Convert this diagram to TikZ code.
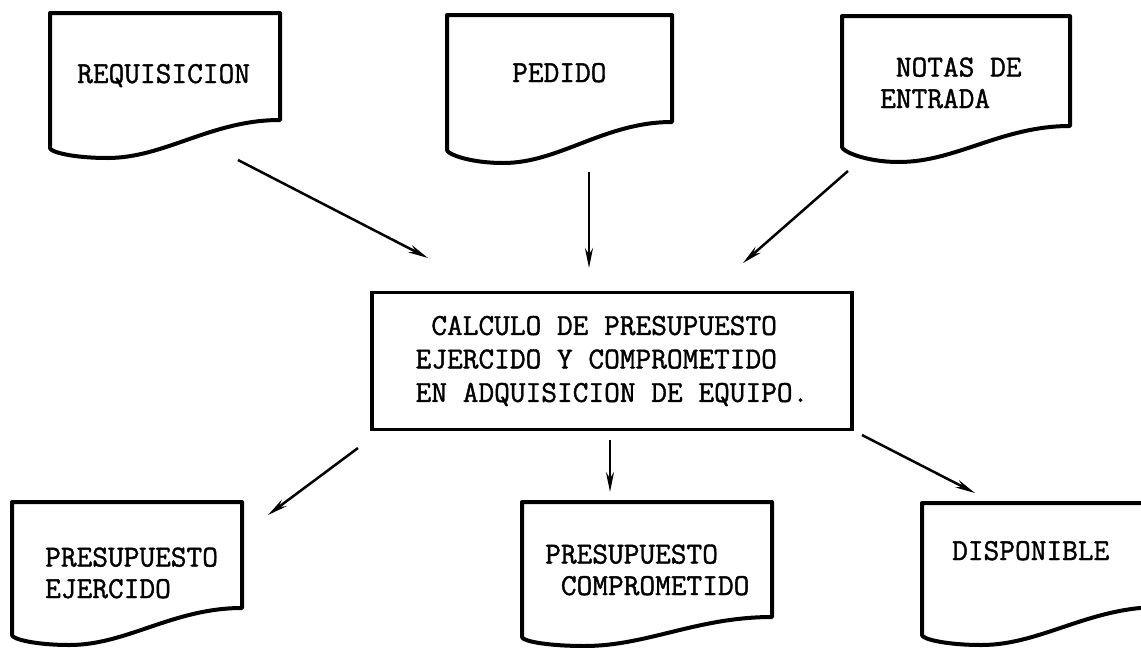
\documentclass[tikz,border=0pt]{standalone}
\usepackage{fontspec}
\newfontfamily\typew[FakeBold=1.3]{Latin Modern Mono}
\usetikzlibrary{arrows.meta}
\tikzset{
  docline/.style={line width=4pt, line join=round},
  boxline/.style={draw, line width=3.5pt, minimum width=480pt, minimum height=137pt, align=left, inner sep=0pt},
  doctext/.style={anchor=base west, inner sep=0pt, align=left, font=\typew\fontsize{30.5}{31.5}\selectfont},
  flow/.style={line width=2.5pt, -{Stealth[length=20pt, width=8pt]}}
}
\newcommand\docshp[6]{%
  \draw[docline] (#1,#2) -- (#3,#2) -- (#3,#4)
    .. controls ({#3-0.3*(#3-#1)},#4) and ({#1+0.5*(#3-#1)},#5) .. ({#1+0.25*(#3-#1)},#5)
    .. controls ({#1+0.1*(#3-#1)},#5) and (#1,{#6+4}) .. (#1,#6) -- cycle;}
\begin{document}
\begin{tikzpicture}[x=1pt,y=-1pt]
\path[use as bounding box, clip] (0,0) rectangle (1141,648);
\fill[white] (0,0) rectangle (1141,648);
% documents
\docshp{50}{13}{280}{120}{158}{148}
\docshp{447}{15}{672}{122}{163}{150}
\docshp{842}{16}{1070}{126}{162}{147}
\docshp{12}{502}{242}{608}{645}{635}
\docshp{522}{502}{772}{617}{646}{637}
\docshp{922}{503}{1160}{607}{645}{635}
% texts
\node[doctext] (req) at (77,83) {REQUISICION};
\node[doctext] (ped) at (512,82) {PEDIDO};
\node[doctext] (notas) at (880,108) {\ NOTAS DE\\ENTRADA};
\node[doctext] (ejer) at (45,598) {PRESUPUESTO\\EJERCIDO};
\node[doctext] (comp) at (545,595) {PRESUPUESTO\\\ COMPROMETIDO};
\node[doctext] (disp) at (952,560) {DISPONIBLE};
% central box
\node[boxline, font=\typew\fontsize{30.5}{33.5}\selectfont] (calc) at (612,361)
  {\ CALCULO DE PRESUPUESTO\\EJERCIDO Y COMPROMETIDO\\EN ADQUISICION DE EQUIPO.};
% connector end points
\coordinate (a1s) at (238,160); \coordinate (a1e) at (428,258);
\coordinate (a2s) at (589,172); \coordinate (a2e) at (589,268);
\coordinate (a3s) at (848,171); \coordinate (a3e) at (743,263);
\coordinate (a4s) at (358,448); \coordinate (a4e) at (268,515);
\coordinate (a5s) at (610,440); \coordinate (a5e) at (610,492);
\coordinate (a6s) at (862,435); \coordinate (a6e) at (975,493);
\draw[flow] (a1s) -- (a1e);
\draw[flow] (a2s) -- (a2e);
\draw[flow] (a3s) -- (a3e);
\draw[flow] (a4s) -- (a4e);
\draw[flow] (a5s) -- (a5e);
\draw[flow] (a6s) -- (a6e);
\end{tikzpicture}
\end{document}
